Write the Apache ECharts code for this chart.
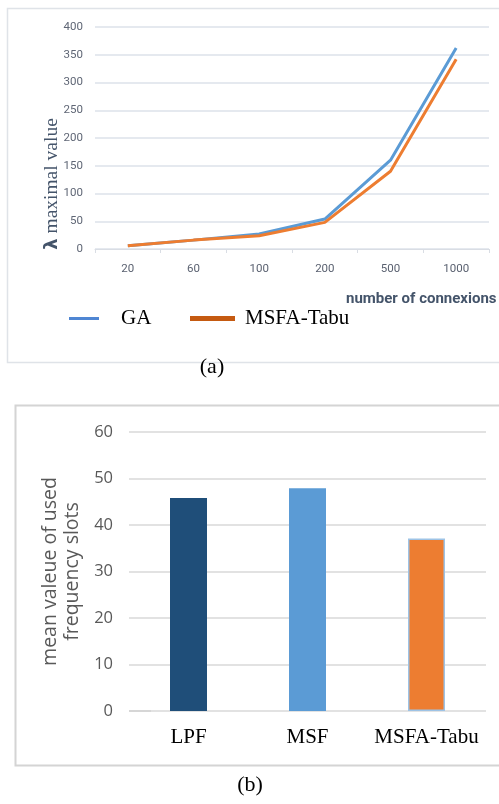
<!DOCTYPE html>
<html>
<head>
<meta charset="utf-8">
<script src="https://cdn.jsdelivr.net/npm/echarts@6/dist/echarts.min.js"></script>
<style>
  html, body { margin: 0; padding: 0; background: #ffffff; }
  #chart { width: 499px; height: 804px; }
</style>
</head>
<body>
<div id="chart"></div>
<script>
// (a) maximal lambda vs. number of connexions
const connexions = ['20', '60', '100', '200', '500', '1000'];
const gaValues = [6, 16, 27, 54, 160, 362];
const msfaTabuValues = [6, 16, 24, 48, 140, 342];

// (b) mean number of used frequency slots per method
const methods = ['LPF', 'MSF', 'MSFA-Tabu'];
const meanSlots = [45.8, 47.9, 37.1];
const methodColors = ['#1f4e79', '#5b9bd5', '#ed7d31'];

const chart = echarts.init(document.getElementById('chart'), null, { renderer: 'canvas' });

const serif = '"Liberation Serif", "Times New Roman", serif';

chart.setOption({
  animation: false,
  backgroundColor: '#ffffff',
  grid: [
    { left: 95, right: 10, top: 27, bottom: 555 },
    { left: 129, right: 13, top: 432, bottom: 93 }
  ],
  legend: [
    {
      left: 64, top: 303,
      itemWidth: 30, itemHeight: 3, itemGap: 10,
      icon: 'rect',
      data: [{ name: 'GA', itemStyle: { color: '#4f86d3' } }],
      textStyle: { fontFamily: serif, fontSize: 21, color: '#000000', padding: [0, 0, 0, 17] }
    },
    {
      left: 185, top: 303,
      itemWidth: 45, itemHeight: 5,
      icon: 'rect',
      data: [{ name: 'MSFA-Tabu', itemStyle: { color: '#c55a11' } }],
      textStyle: { fontFamily: serif, fontSize: 21, color: '#000000', padding: [0, 0, 0, 5] }
    }
  ],
  xAxis: [
    {
      gridIndex: 0,
      type: 'category',
      data: connexions,
      boundaryGap: true,
      axisLine: { lineStyle: { color: '#d9dde4', width: 1 } },
      axisTick: { show: true, length: 4, lineStyle: { color: '#d9dde4' } },
      axisLabel: { color: '#5a6170', fontFamily: 'Roboto', fontSize: 11.5, margin: 14, interval: 0 }
    },
    {
      gridIndex: 1,
      type: 'category',
      data: methods,
      axisLine: { show: false },
      axisTick: { show: false },
      axisLabel: { color: '#000000', fontFamily: serif, fontSize: 21, margin: 16, interval: 0 }
    }
  ],
  yAxis: [
    {
      gridIndex: 0,
      type: 'value',
      min: 0, max: 400, interval: 50,
      axisLine: { show: false },
      axisTick: { show: false },
      axisLabel: { color: '#5f6675', fontFamily: 'Roboto', fontSize: 11.5, margin: 12 },
      splitLine: { lineStyle: { color: '#dde2ea', width: 1.5 } }
    },
    {
      gridIndex: 1,
      type: 'value',
      min: 0, max: 60, interval: 10,
      name: 'mean valeue of used\nfrequency slots',
      nameLocation: 'middle',
      nameRotate: 90,
      nameGap: 40,
      nameTextStyle: { color: '#595959', fontFamily: '"Open Sans"', fontSize: 19.5, lineHeight: 22 },
      axisLine: { show: false },
      axisTick: { show: false },
      axisLabel: { color: '#595959', fontFamily: '"Open Sans"', fontSize: 16.5, margin: 16 },
      splitLine: { lineStyle: { color: '#d9d9d9', width: 1.5 } }
    }
  ],
  series: [
    {
      name: 'GA', type: 'line', xAxisIndex: 0, yAxisIndex: 0,
      data: gaValues, symbol: 'none',
      lineStyle: { color: '#5b9bd5', width: 3 },
      itemStyle: { color: '#5b9bd5' },
      z: 3
    },
    {
      name: 'MSFA-Tabu', type: 'line', xAxisIndex: 0, yAxisIndex: 0,
      data: msfaTabuValues, symbol: 'none',
      lineStyle: { color: '#ed7d31', width: 3 },
      itemStyle: { color: '#ed7d31' },
      z: 4
    },
    {
      name: 'slots', type: 'bar', xAxisIndex: 1, yAxisIndex: 1,
      barWidth: 37,
      data: meanSlots.map((v, i) => ({
        value: v,
        itemStyle: {
          color: methodColors[i],
          borderColor: i === 2 ? '#9dc3e6' : methodColors[i],
          borderWidth: i === 2 ? 1.5 : 0
        }
      }))
    }
  ],
  graphic: [
    // panel frames
    { type: 'rect', shape: { x: 7.5, y: 8.5, width: 500, height: 354 }, style: { fill: 'none', stroke: '#dfe3e8', lineWidth: 1.5 }, silent: true },
    { type: 'rect', shape: { x: 15.5, y: 405.5, width: 500, height: 360 }, style: { fill: 'none', stroke: '#d4d4d4', lineWidth: 2 }, silent: true },
    // short darker segment at the origin of the bar chart
    { type: 'line', shape: { x1: 129, y1: 711, x2: 151, y2: 711 }, style: { stroke: '#bfbfbf', lineWidth: 1.5 } },
    // y-axis title of (a)
    {
      type: 'text', x: 52, y: 184, rotation: Math.PI / 2,
      style: {
        text: '{l|λ} maximal value',
        rich: {
          l: { fontFamily: '"DejaVu Sans"', fontWeight: 'bold', fontSize: 18, fill: '#44546a' }
        },
        fontFamily: serif, fontSize: 19.5, fill: '#44546a',
        align: 'center', verticalAlign: 'middle'
      }
    },
    // x-axis title of (a)
    {
      type: 'text', x: 346, y: 299,
      style: {
        text: 'number of connexions',
        fontFamily: 'Roboto', fontWeight: 'bold', fontSize: 15, fill: '#44546a',
        align: 'left', verticalAlign: 'middle'
      }
    },
    // panel captions
    { type: 'text', x: 212, y: 367, style: { text: '(a)', fontFamily: serif, fontSize: 22, fill: '#000000', align: 'center', verticalAlign: 'middle' } },
    { type: 'text', x: 250, y: 785, style: { text: '(b)', fontFamily: serif, fontSize: 22, fill: '#000000', align: 'center', verticalAlign: 'middle' } }
  ]
});
</script>
</body>
</html>
